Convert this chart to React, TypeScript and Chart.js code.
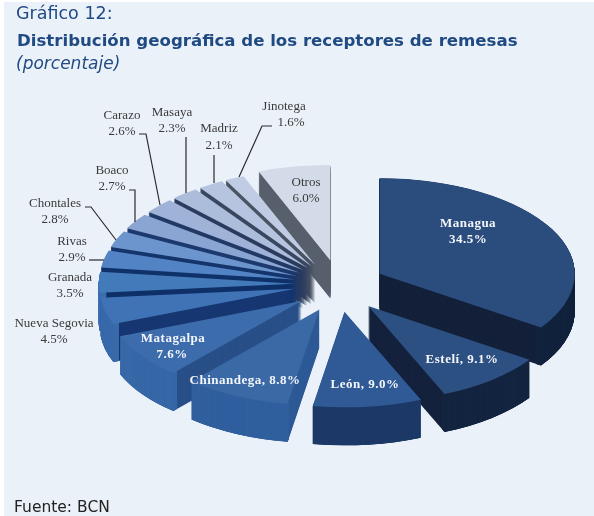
import React, { useEffect, useRef } from "react";
import { Chart, registerables } from "chart.js";

Chart.register(...registerables);

const regions = ["Managua","Estelí","León","Chinandega","Matagalpa","Nueva Segovia","Granada","Rivas","Chontales","Boaco","Carazo","Masaya","Madriz","Jinotega","Otros"];
const shares = [34.5,9.1,9.0,8.8,7.6,4.5,3.5,2.9,2.8,2.7,2.6,2.3,2.1,1.6,6.0];
const topColors = ["#2b4d7e","#2d5083","#2f5a95","#3a69a6","#3c6cac","#3f73b6","#437aba","#5283c4","#6d95cd","#8ba5d2","#9fb2d7","#acbcdb","#b6c4df","#c0cce3","#d3dbe8"];
const cutColors = ["#14203a","#14213c","#1d3863","#2d5a96","#294f88","#173772","#0f3068","#10326a","#15356c","#1d3a6e","#233a66","#2c3c5e","#3a4760","#4a5364","#575f6c"];
const rimColors = ["#14253f","#152641","#1e3a68","#32609f","#3768a7","#3a6bab","#3d70b0","#4775b4","#5a83bd","#7490c0","#8a9fc5","#98a8c6","#a4b1c9","#adb8cb","#bfc7d4"];

const TEXT_FONT = '"Liberation Serif"';
const blockLabels: [string, string, number, number, number][] = [
  ["Carazo", "2.6%", 122, 116, 132],
  ["Masaya", "2.3%", 172, 113, 129],
  ["Madriz", "2.1%", 219, 129, 146],
  ["Jinotega", "", 284, 107, 0],
  ["", "1.6%", 291, 0, 123],
  ["Boaco", "2.7%", 112, 171, 187],
  ["Chontales", "2.8%", 55, 204, 220],
  ["Rivas", "2.9%", 72, 242, 258],
  ["Granada", "3.5%", 70, 278, 294],
  ["Nueva Segovia", "4.5%", 54, 324, 340],
  ["Otros", "6.0%", 306, 183, 199],
];
const whiteLabels: [string, number, number][] = [
  ["Managua", 468, 224],
  ["34.5%", 468, 240],
  ["Estelí, 9.1%", 462, 360],
  ["León, 9.0%", 365, 385],
  ["Chinandega, 8.8%", 245, 381],
  ["Matagalpa", 173, 339],
  ["7.6%", 172, 355],
];
const leaders: number[][] = [
  [139,134,146,134,160,205],
  [186,137,186,193],
  [214,155,214,183],
  [272,126,262,126,239,177],
  [129,190,135,190,135,222],
  [85,207,91,207,116,240],
  [89,260,104,260],
];

const PIE_X = 339, PIE_Y = 286, SQUASH = 0.49, EXPLODE_X = 46, EXPLODE_Y = 26, DEPTH = 38;
const GROUP_FROM = 5, GROUP_TO = 13, GROUP_ANGLE = (203 * Math.PI) / 180, GROUP_SPREAD = 0.8;

const pie3d = {
  id: "pie3d",
  beforeDraw(chart: any) {
    const c = chart.ctx;
    c.save();
    c.fillStyle = "#ffffff";
    c.fillRect(0, 0, 594, 516);
    c.fillStyle = "#ebf1f9";
    c.fillRect(4, 2, 590, 514);
    c.restore();
  },
  beforeDatasetsDraw(chart: any) {
    const off = document.createElement("canvas");
    off.width = 594;
    off.height = 516;
    const c = off.getContext("2d") as CanvasRenderingContext2D;
    const arcs: any[] = chart.getDatasetMeta(0).data.map((el: any, i: number) => ({ el, i }));
    const mid = (a: any) => (a.el.startAngle + a.el.endAngle) / 2;
    arcs.sort((a, b) => Math.sin(mid(a)) - Math.sin(mid(b)));
    const place = (a: any, depth: number) => {
      const m = mid(a);
      let ox = Math.cos(m) * EXPLODE_X;
      let oy = Math.sin(m) * EXPLODE_Y;
      if (a.i >= GROUP_FROM && a.i <= GROUP_TO) {
        const gx = Math.cos(GROUP_ANGLE) * EXPLODE_X;
        const gy = Math.sin(GROUP_ANGLE) * EXPLODE_Y;
        ox = gx + (ox - gx) * GROUP_SPREAD;
        oy = gy + (oy - gy) * GROUP_SPREAD;
      }
      c.translate(PIE_X + ox, PIE_Y + oy + depth);
      c.scale(1, SQUASH);
      c.translate(-a.el.x, -a.el.y);
    };
    const ghost = (el: any, color: string, extra: any = {}) =>
      Object.create(el, {
        options: { value: { ...el.options, backgroundColor: color, borderWidth: 0, offset: 0 } },
        ...Object.fromEntries(Object.entries(extra).map(([k, v]) => [k, { value: v }])),
      });
    for (const a of arcs) {
      const cut = ghost(a.el, cutColors[a.i]);
      const rim = ghost(a.el, rimColors[a.i], { innerRadius: a.el.outerRadius - 6 });
      for (let d = DEPTH; d > 0; d -= 1) {
        c.save(); place(a, d); cut.draw(c); c.restore();
      }
      const facesViewer = Math.sin(a.el.startAngle) > 0 || Math.sin(a.el.endAngle) > 0;
      if (facesViewer) {
        for (let d = DEPTH; d > 0; d -= 0.25) {
          c.save(); place(a, d); rim.draw(c); c.restore();
        }
      }
      c.save(); place(a, 0); ghost(a.el, topColors[a.i]).draw(c); c.restore();
    }
    const main = chart.ctx;
    main.save();
    main.filter = "blur(0.7px)";
    main.drawImage(off, 0, 0);
    main.restore();
    return false;
  },
  afterDraw(chart: any) {
    const c = chart.ctx;
    c.save();
    c.filter = "blur(0.35px)";
    c.strokeStyle = "#2b2b2b";
    c.lineWidth = 1.2;
    for (const l of leaders) {
      c.beginPath();
      c.moveTo(l[0], l[1]);
      for (let i = 2; i < l.length; i += 2) c.lineTo(l[i], l[i + 1]);
      c.stroke();
    }
    c.textAlign = "center";
    c.textBaseline = "middle";
    c.font = `13px ${TEXT_FONT}`;
    c.fillStyle = "#3a3a3a";
    for (const [a, b, x, y1, y2] of blockLabels) {
      if (a) c.fillText(a, x, y1);
      if (b) c.fillText(b, x, y2);
    }
    c.font = `bold 13px ${TEXT_FONT}`;
    (c as any).letterSpacing = "0.5px";
    c.fillStyle = "#f4f6fa";
    for (const [t, x, y] of whiteLabels) c.fillText(t, x, y);
    (c as any).letterSpacing = "0px";
    c.textAlign = "left";
    c.fillStyle = "#1f4a82";
    c.font = '17.5px "DejaVu Sans"';
    c.fillText("Gráfico 12:", 16, 14);
    c.font = 'bold 16.6px "DejaVu Sans"';
    c.fillText("Distribución geográfica de los receptores de remesas", 17, 42);
    c.font = 'italic 17px "DejaVu Sans"';
    c.fillText("(porcentaje)", 16, 65);
    c.fillStyle = "#222222";
    c.font = '15.5px "DejaVu Sans"';
    c.fillText("Fuente: BCN", 14, 508);
    c.restore();
  },
};

export default function App() {
  const ref = useRef<HTMLCanvasElement>(null);
  useEffect(() => {
    document.body.style.margin = "0";
    const chart = new Chart(ref.current!, {
      type: "pie",
      data: { labels: regions, datasets: [{ data: shares, backgroundColor: topColors, borderWidth: 0 }] },
      options: {
        animation: false,
        responsive: false,
        radius: 195,
        layout: { padding: 0 },
        plugins: { legend: { display: false }, tooltip: { enabled: false } },
      } as any,
      plugins: [pie3d as any],
    });
    return () => chart.destroy();
  }, []);
  return <canvas ref={ref} width={594} height={516} style={{ display: "block" }} />;
}
